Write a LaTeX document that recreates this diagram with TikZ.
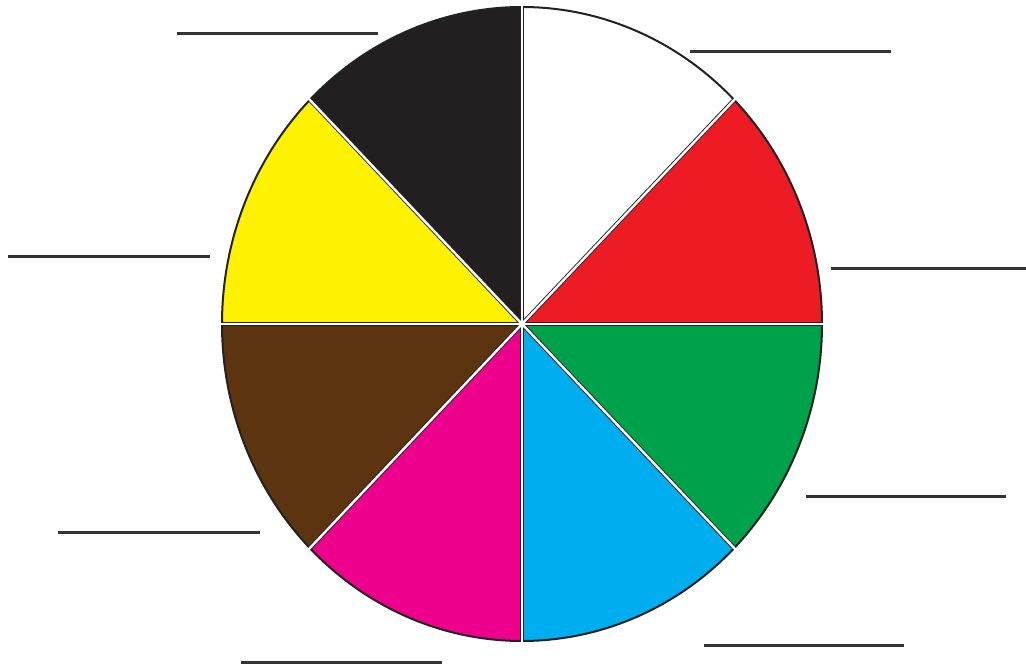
\documentclass[tikz,border=0pt]{standalone}
\definecolor{cblack}{HTML}{231F20}
\definecolor{cred}{HTML}{ED1C24}
\definecolor{cgreen}{HTML}{00A14B}
\definecolor{cblue}{HTML}{00AEEF}
\definecolor{cmag}{HTML}{EC008C}
\definecolor{cbrown}{HTML}{5C3410}
\definecolor{cyellow}{HTML}{FFF200}
\definecolor{outl}{HTML}{222222}
\definecolor{blank}{HTML}{333333}
\tikzset{
  sector/.style={draw=outl, line width=2pt, line join=miter},
  radedge/.style={draw=outl, line width=4.2pt},
  gap/.style={draw=white, line width=2.4pt},
  blankline/.style={draw=blank, line width=3pt}
}
\newcommand{\sect}[3]{%
  \path[sector, fill=#3] (C) -- ([shift={(C)}]#1:300pt and 317pt)
    arc[start angle=#1, end angle=#2, x radius=300pt, y radius=317pt] -- cycle;}
\begin{document}
\begin{tikzpicture}[x=1pt,y=1pt]
\useasboundingbox (0,0) rectangle (1026,670);
\coordinate (C) at (522,346);
\sect{0}{45}{cred}
\sect{45}{90}{white}
\sect{90}{135}{cblack}
\sect{135}{180}{cyellow}
\sect{180}{225}{cbrown}
\sect{225}{270}{cmag}
\sect{270}{315}{cblue}
\sect{315}{360}{cgreen}
\foreach \a in {0,45,...,315}
  \draw[radedge] (C) -- ([shift={(C)}]\a:300pt and 317pt);
\foreach \a in {0,45,...,315}
  \draw[gap] (C) -- ([shift={(C)}]\a:302pt and 319pt);
% blank answer lines
\coordinate (l1a) at (177,636); \coordinate (l1b) at (378,636);
\coordinate (l2a) at (690,618); \coordinate (l2b) at (891,618);
\coordinate (l3a) at (8,413);   \coordinate (l3b) at (210,413);
\coordinate (l4a) at (831,401); \coordinate (l4b) at (1026,401);
\coordinate (l5a) at (806,173); \coordinate (l5b) at (1006,173);
\coordinate (l6a) at (704,25);  \coordinate (l6b) at (904,25);
\coordinate (l7a) at (241,8);   \coordinate (l7b) at (442,8);
\coordinate (l8a) at (58,137);  \coordinate (l8b) at (260,137);
\foreach \i in {1,...,8}
  \draw[blankline] (l\i a) -- (l\i b);
\end{tikzpicture}
\end{document}
